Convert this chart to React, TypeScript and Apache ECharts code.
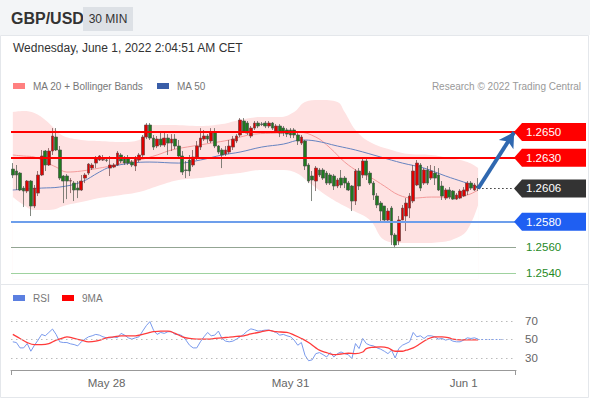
import React, { useEffect, useRef } from 'react';
import * as echarts from 'echarts';

// ---------- data ----------
const opens = [
  1.26211, 1.26196, 1.2618, 1.26063, 1.2604, 1.26118, 1.25923, 1.26024, 1.26165, 1.26352,
  1.26243, 1.26352, 1.26461, 1.2636, 1.26157, 1.26157, 1.26118, 1.26102, 1.26063, 1.26048,
  1.26141, 1.2618, 1.26219, 1.26258, 1.26282, 1.26282, 1.26282, 1.26219, 1.26227, 1.26243,
  1.26321, 1.26297, 1.26297, 1.26266, 1.26235, 1.26282, 1.26321, 1.26461, 1.26555, 1.26453,
  1.26391, 1.26445, 1.26399, 1.26453, 1.26414, 1.26445, 1.26391, 1.26313, 1.26204, 1.26282,
  1.26243, 1.26305, 1.26383, 1.26445, 1.26469, 1.2643, 1.265, 1.26391, 1.2636, 1.26328,
  1.26344, 1.26383, 1.2643, 1.26477, 1.26586, 1.2657, 1.26469, 1.26531, 1.2657, 1.26562,
  1.2657, 1.26547, 1.2657, 1.26508, 1.26547, 1.26531, 1.26516, 1.26516, 1.26516, 1.26477,
  1.26414, 1.2643, 1.26243, 1.26157, 1.26118, 1.26204, 1.26204, 1.2618, 1.26165, 1.26157,
  1.26079, 1.26141, 1.26141, 1.26102, 1.26079, 1.25962, 1.26196, 1.26165, 1.26274, 1.2618,
  1.26102, 1.26001, 1.25946, 1.25923, 1.25814, 1.25907, 1.25697, 1.2565, 1.25814, 1.25845,
  1.25907, 1.25962, 1.26087, 1.26243, 1.26102, 1.26204, 1.26141, 1.2618, 1.26165, 1.26079,
  1.25985, 1.26048, 1.2604, 1.25977, 1.25985, 1.26001, 1.2604, 1.26102, 1.26048, 1.26079,
];
const closes = [
  1.26165, 1.26165, 1.26048, 1.2604, 1.26118, 1.25923, 1.26063, 1.26165, 1.26313, 1.26243,
  1.26352, 1.26469, 1.2636, 1.26141, 1.26118, 1.26118, 1.26121, 1.26048, 1.26048, 1.26118,
  1.26165, 1.2625, 1.26243, 1.26297, 1.26313, 1.26285, 1.2628, 1.26243, 1.26243, 1.26336,
  1.26274, 1.26258, 1.26258, 1.26243, 1.26297, 1.26321, 1.26461, 1.26555, 1.26453, 1.26383,
  1.26445, 1.26399, 1.26453, 1.26414, 1.26445, 1.26391, 1.26313, 1.26188, 1.26201, 1.26196,
  1.26305, 1.26391, 1.26453, 1.26469, 1.26445, 1.265, 1.26391, 1.26344, 1.26321, 1.2636,
  1.26391, 1.26445, 1.26469, 1.26594, 1.26508, 1.26492, 1.26531, 1.2657, 1.26547, 1.2656,
  1.26547, 1.2657, 1.26531, 1.26547, 1.26492, 1.26492, 1.26484, 1.26477, 1.26477, 1.2643,
  1.26461, 1.26235, 1.26118, 1.26126, 1.26219, 1.26165, 1.26141, 1.26102, 1.26102, 1.26079,
  1.26126, 1.26087, 1.26102, 1.26048, 1.25962, 1.26196, 1.26079, 1.26274, 1.26165, 1.26102,
  1.26009, 1.25931, 1.25884, 1.25814, 1.25884, 1.25697, 1.25619, 1.25814, 1.25907, 1.25946,
  1.26001, 1.26196, 1.26258, 1.26063, 1.26204, 1.26102, 1.26196, 1.26141, 1.26048, 1.26001,
  1.26048, 1.25993, 1.25977, 1.26009, 1.2604, 1.26048, 1.26102, 1.26063, 1.26087, 1.26063,
];
const lows = [
  1.26141, 1.26048, 1.2604, 1.25915, 1.26024, 1.25845, 1.25907, 1.26001, 1.26157, 1.26196,
  1.26235, 1.26321, 1.26352, 1.26126, 1.25946, 1.25977, 1.26024, 1.25962, 1.25985, 1.2604,
  1.26102, 1.26165, 1.26204, 1.26219, 1.26274, 1.26274, 1.26266, 1.26157, 1.26219, 1.26235,
  1.26258, 1.26243, 1.26243, 1.26227, 1.26196, 1.26266, 1.26305, 1.26445, 1.26438, 1.2636,
  1.26375, 1.26383, 1.26383, 1.26321, 1.26352, 1.26367, 1.26297, 1.26165, 1.26141, 1.26157,
  1.26227, 1.26282, 1.2636, 1.2643, 1.26414, 1.26414, 1.26375, 1.26328, 1.26219, 1.26313,
  1.26328, 1.2636, 1.26414, 1.26461, 1.26492, 1.26477, 1.26453, 1.26516, 1.26531, 1.26547,
  1.26531, 1.26531, 1.26516, 1.265, 1.26461, 1.26469, 1.26461, 1.26453, 1.26453, 1.26399,
  1.26399, 1.26204, 1.26102, 1.25962, 1.2604, 1.26149, 1.26126, 1.26087, 1.26087, 1.26048,
  1.26063, 1.26063, 1.26063, 1.2604, 1.25884, 1.25931, 1.26048, 1.26141, 1.26126, 1.26087,
  1.2597, 1.25907, 1.25806, 1.25806, 1.25806, 1.25619, 1.25595, 1.25619, 1.25814, 1.25728,
  1.25829, 1.25946, 1.26079, 1.2604, 1.26087, 1.26087, 1.26126, 1.26087, 1.2604, 1.2597,
  1.2597, 1.25977, 1.2597, 1.2597, 1.25977, 1.25993, 1.26009, 1.26048, 1.2604, 1.2604,
];
const highs = [
  1.26258, 1.26243, 1.26188, 1.26079, 1.26126, 1.26126, 1.26087, 1.26196, 1.2636, 1.2636,
  1.26375, 1.26531, 1.26531, 1.26391, 1.26165, 1.26172, 1.26141, 1.26118, 1.26118, 1.26165,
  1.2618, 1.26258, 1.26258, 1.26313, 1.26321, 1.26321, 1.26297, 1.26313, 1.26258, 1.26352,
  1.26336, 1.26313, 1.26321, 1.26282, 1.26313, 1.26336, 1.26477, 1.2657, 1.2657, 1.26477,
  1.26469, 1.265, 1.26508, 1.26484, 1.26484, 1.26484, 1.26438, 1.26352, 1.26274, 1.26321,
  1.2636, 1.2643, 1.26531, 1.26516, 1.26484, 1.26531, 1.26531, 1.26399, 1.26375, 1.26391,
  1.26438, 1.26469, 1.26484, 1.26609, 1.26609, 1.26586, 1.26547, 1.26586, 1.26586, 1.26578,
  1.26586, 1.26586, 1.26578, 1.26562, 1.26562, 1.26547, 1.26531, 1.26531, 1.26531, 1.26492,
  1.26477, 1.26438, 1.26258, 1.26196, 1.26235, 1.26219, 1.26219, 1.26196, 1.2618, 1.26172,
  1.26141, 1.26204, 1.26157, 1.26118, 1.26087, 1.26211, 1.26219, 1.26297, 1.26297, 1.26196,
  1.26118, 1.26024, 1.25962, 1.25923, 1.25907, 1.25923, 1.25712, 1.25845, 1.25931, 1.25985,
  1.26024, 1.26243, 1.26282, 1.26258, 1.26219, 1.26235, 1.26243, 1.26235, 1.26219, 1.26118,
  1.26063, 1.26071, 1.26048, 1.26024, 1.26055, 1.26071, 1.26118, 1.26118, 1.26102, 1.26141,
];

// indicator lines: [candle index, value]
const upperBand = [
  [0, 1.26656], [3, 1.26664], [6, 1.26648], [9, 1.26594], [12, 1.26516], [14, 1.26469], [19, 1.26438],
  [24, 1.2643], [30, 1.26422], [35, 1.26438], [38, 1.26555], [44, 1.26555], [52, 1.26547], [58, 1.26562],
  [63, 1.26594], [69, 1.26617], [74, 1.26617], [78, 1.26656], [81, 1.26734], [85, 1.2675], [90, 1.26734],
  [92, 1.26656], [95, 1.26516], [99, 1.26422], [105, 1.2636], [110, 1.26328], [116, 1.26321], [121, 1.26297],
  [126, 1.26266], [129, 1.26219],
];
const lowerBand = [
  [0, 1.25993], [3, 1.25931], [6, 1.25892], [10, 1.25892], [15, 1.25931], [19, 1.25954], [24, 1.25985],
  [30, 1.26009], [35, 1.26032], [41, 1.26087], [46, 1.26126], [52, 1.26141], [58, 1.26165], [63, 1.2618],
  [69, 1.26204], [74, 1.26204], [78, 1.26188], [83, 1.26087], [88, 1.25985], [94, 1.25892], [99, 1.25814],
  [103, 1.25658], [108, 1.25634], [113, 1.25634], [119, 1.25642], [123, 1.25673], [126, 1.25736], [129, 1.25931],
];
const ma20 = [
  [0, 1.26321], [3, 1.26313], [6, 1.26305], [9, 1.26266], [12, 1.26227], [15, 1.26188], [19, 1.26196],
  [24, 1.26219], [27, 1.26235], [30, 1.26258], [35, 1.26282], [40, 1.26321], [44, 1.2636], [50, 1.26391],
  [55, 1.26414], [60, 1.26438], [63, 1.26461], [67, 1.26484], [73, 1.26492], [79, 1.265], [84, 1.26461],
  [88, 1.26375], [92, 1.26266], [96, 1.26188], [99, 1.26149], [103, 1.26079], [107, 1.26009], [111, 1.25985],
  [116, 1.25993], [121, 1.25993], [126, 1.26009], [129, 1.26048],
];
const ma50 = [
  [0, 1.26048], [8, 1.26063], [13, 1.26071], [19, 1.2611], [24, 1.26188], [27, 1.26227], [33, 1.26258],
  [38, 1.26266], [46, 1.26258], [52, 1.26282], [58, 1.26321], [63, 1.26344], [69, 1.26383], [75, 1.26406],
  [80, 1.26438], [84, 1.2643], [90, 1.26391], [95, 1.2636], [102, 1.26305], [108, 1.26258], [114, 1.26219],
  [120, 1.26157], [125, 1.2611], [129, 1.26071],
];

const rsi = [
  47.5, 46.7, 40.9, 40.9, 45.6, 37.3, 43.8, 49.3, 55.5, 54.0,
  57.6, 61.3, 55.5, 47.5, 46.7, 46.7, 45.3, 44.5, 43.1, 47.5,
  50.4, 52.9, 54.0, 55.5, 54.7, 52.9, 51.8, 51.8, 52.9, 51.8,
  56.6, 54.7, 51.8, 50.4, 51.8, 52.9, 59.1, 64.9, 69.3, 60.2,
  55.5, 57.6, 56.6, 58.4, 58.4, 55.5, 55.5, 54.0, 49.3, 43.8,
  40.9, 40.9, 47.5, 52.9, 57.6, 54.0, 54.7, 59.1, 51.1, 48.2,
  47.5, 48.2, 50.4, 52.9, 55.5, 59.1, 61.5, 60.5, 59.1, 59.5,
  60.2, 60.2, 59.0, 57.6, 54.7, 55.5, 54.0, 52.9, 49.3, 43.8,
  46.7, 33.0, 27.0, 28.0, 34.7, 35.8, 33.6, 31.1, 35.8, 31.1,
  34.7, 36.5, 34.7, 33.6, 29.3, 45.6, 40.2, 51.1, 45.6, 43.8,
  43.1, 40.9, 39.5, 37.3, 34.7, 38.4, 30.0, 40.2, 43.8, 45.6,
  47.5, 57.6, 52.9, 54.0, 51.1, 54.0, 54.0, 52.9, 50.4, 51.1,
  49.3, 50.4, 48.2, 47.5, 47.5, 49.3, 51.8, 51.1, 51.8, 50.4,
];
const rsiMa9 = [
  [0, 55.5], [2, 51.1], [4, 46.7], [6, 44.5], [8, 44.5], [10, 45.6], [12, 49.3], [14, 51.8], [15, 52.9],
  [17, 51.1], [19, 49.3], [21, 47.5], [23, 48.2], [25, 50.4], [26, 51.8], [28, 52.9], [30, 54.0], [32, 54.0],
  [34, 54.0], [36, 55.5], [38, 57.6], [39, 58.4], [41, 59.1], [43, 59.1], [45, 56.6], [47, 52.9], [49, 51.1],
  [51, 50.4], [52, 50.4], [54, 50.4], [56, 51.1], [58, 51.8], [60, 52.5], [62, 53.3], [64, 54.0], [66, 56.0],
  [69, 58.4], [71, 59.8], [73, 58.4], [76, 57.6], [78, 54.7], [80, 51.1], [82, 46.7], [84, 40.9], [85, 38.4],
  [87, 35.8], [89, 33.6], [91, 34.3], [93, 35.1], [95, 34.7], [97, 36.5], [98, 40.2], [100, 41.6], [102, 42.0],
  [104, 40.9], [106, 37.3], [108, 37.3], [109, 38.4], [111, 40.9], [113, 45.6], [115, 50.4], [117, 52.9],
  [119, 52.9], [121, 51.8], [122, 50.4], [124, 49.6], [126, 49.6], [129, 49.6],
];

const rsiLevels = [70, 50, 30];
const lastPrice = 1.2606;
const targetPrice = 1.265;
const badgeLevels = [1.265, 1.263, 1.2606, 1.258];
const plainLevels = [1.256, 1.254];
const slotCount = 140;
const dateTickIndex = [26, 77, 125];
const dateTickLabel = ['May 28', 'May 31', 'Jun 1'];
const headerPair = 'GBP/USD';
const headerPeriod = '30 MIN';
const headerDate = 'Wednesday, June 1, 2022 2:04:51 AM CET';
const creditText = 'Research © 2022 Trading Central';
const priceLegend = ['MA 20 + Bollinger Bands', 'MA 50'];
const rsiLegend = ['RSI', '9MA'];

const FONT = '"Liberation Sans", Arial, Helvetica, sans-serif';

export default function App() {
  const ref = useRef<HTMLDivElement>(null);

  useEffect(() => {
    document.body.style.margin = '0';
    if (!ref.current) return;
    const chart = echarts.init(ref.current, undefined, { renderer: 'svg' });

    const categories = Array.from({ length: slotCount }, (_, i) => String(i));
    const candles = opens.map((o, i) => [o, closes[i], lows[i], highs[i]]);
    const lastIdx = opens.length - 1;

    const levelLine = (v: number, color: string, width: number) => ({
      yAxis: v,
      lineStyle: { color, width, type: 'solid' },
    });

    chart.setOption({
      animation: false,
      textStyle: { fontFamily: FONT },
      grid: [
        { left: 11, width: 505, top: 100, height: 179.5 },
        { left: 11, width: 505, top: 302.5, height: 67.5 },
      ],
      xAxis: [
        {
          type: 'category', gridIndex: 0, data: categories, boundaryGap: true,
          axisLine: { show: false }, axisTick: { show: false }, axisLabel: { show: false }, splitLine: { show: false },
        },
        {
          type: 'category', gridIndex: 1, data: categories, boundaryGap: true,
          axisLine: { show: true, lineStyle: { color: '#999', width: 1 } },
          axisTick: { show: false },
          axisLabel: {
            interval: 0, color: '#666', fontSize: 11.5, margin: 7, fontFamily: FONT,
            formatter: (_v: string, idx: number) => {
              const k = dateTickIndex.indexOf(idx);
              return k >= 0 ? dateTickLabel[k] : '';
            },
          },
          splitLine: { show: false },
        },
      ],
      yAxis: [
        { type: 'value', gridIndex: 0, min: 1.2535, max: 1.2675, show: false },
        { type: 'value', gridIndex: 1, min: 17, max: 90, show: false },
      ],
      series: [
        {
          name: 'upperBand', type: 'line', xAxisIndex: 0, yAxisIndex: 0, data: upperBand, smooth: 0.4,
          symbol: 'none', lineStyle: { width: 0 }, areaStyle: { color: '#fee2e2', origin: 'start', opacity: 1 },
          z: 1, silent: true,
        },
        {
          name: 'lowerBand', type: 'line', xAxisIndex: 0, yAxisIndex: 0, data: lowerBand, smooth: 0.4,
          symbol: 'none', lineStyle: { width: 0 }, areaStyle: { color: '#ffffff', origin: 'start', opacity: 1 },
          z: 2, silent: true,
        },
        {
          name: 'MA 20 + Bollinger Bands', type: 'line', xAxisIndex: 0, yAxisIndex: 0, data: ma20, smooth: 0.4,
          symbol: 'none', lineStyle: { color: '#f39a9a', width: 1 }, z: 3,
        },
        {
          name: 'MA 50', type: 'line', xAxisIndex: 0, yAxisIndex: 0, data: ma50, smooth: 0.4,
          symbol: 'none', lineStyle: { color: '#6683c0', width: 1 }, z: 3,
        },
        {
          name: 'price', type: 'candlestick', xAxisIndex: 0, yAxisIndex: 0, data: candles, barWidth: 3.2, z: 4,
          itemStyle: { color: '#e00000', color0: '#1f7a1f', borderColor: '#6a4444', borderColor0: '#4a554a', borderWidth: 0.7 },
        },
        {
          name: 'levels', type: 'line', xAxisIndex: 0, yAxisIndex: 0, data: [[lastIdx, lastPrice]],
          symbol: 'none', lineStyle: { width: 0 }, z: 5, silent: true,
          markLine: {
            silent: true, symbol: ['none', 'none'], animation: false, label: { show: false }, precision: 5,
            data: [
              levelLine(1.265, '#ff0000', 2),
              levelLine(1.263, '#ff0000', 2),
              levelLine(1.258, '#6d9eeb', 2),
              levelLine(1.256, '#93a593', 1),
              levelLine(1.254, '#9fd29f', 1),
              [
                { coord: [lastIdx, lastPrice], symbol: 'none' },
                { coord: [slotCount - 1, lastPrice], symbol: 'none', lineStyle: { color: '#333', width: 1.2, type: [1.5, 2.5] } },
              ],
              [
                { coord: [lastIdx, lastPrice], symbol: 'none' },
                {
                  coord: [slotCount - 1, targetPrice], symbol: 'arrow', symbolSize: [13, 15],
                  lineStyle: { color: '#2f68b0', width: 4, type: 'solid' }, itemStyle: { color: '#2f68b0' },
                },
              ],
            ],
          },
        },
        {
          name: 'RSI', type: 'line', xAxisIndex: 1, yAxisIndex: 1, data: rsi, symbol: 'none',
          lineStyle: { color: '#7a9aec', width: 1 }, z: 3,
          markLine: {
            silent: true, symbol: ['none', 'none'], animation: false, precision: 1,
            label: { show: true, position: 'end', distance: 9, color: '#666', fontSize: 11.5, fontFamily: FONT, formatter: '{c}' },
            lineStyle: { color: '#bbb', width: 1, type: [1.5, 3.5] },
            data: [
              ...rsiLevels.map((v) => ({ yAxis: v })),
              [
                { coord: [lastIdx, rsi[lastIdx]], symbol: 'none' },
                { coord: [slotCount - 4, rsi[lastIdx]], symbol: 'none', lineStyle: { color: '#7a9aec', width: 1, type: [1.5, 2] }, label: { show: false } },
              ],
            ],
          },
        },
        {
          name: '9MA', type: 'line', xAxisIndex: 1, yAxisIndex: 1, data: rsiMa9, smooth: 0.4, symbol: 'none',
          lineStyle: { color: '#ff3b3b', width: 1.3 }, z: 4,
        },
      ],
    });

    const yPix = (v: number) => chart.convertToPixel({ yAxisIndex: 0 }, v) as number;
    const badgeColors = ['#ff0000', '#ff0000', '#333333', '#1f5ff2'];
    const badges: any[] = [];
    badgeLevels.forEach((v, k) => {
      const y = yPix(v);
      badges.push({
        type: 'polygon', silent: true, z: 10,
        shape: { points: [[514, y], [522, y - 9], [586, y - 9], [586, y + 9], [522, y + 9]] },
        style: { fill: badgeColors[k] },
      });
      badges.push({
        type: 'text', silent: true, z: 11, x: 526, y,
        style: { text: v.toFixed(4), fill: '#fff', font: `11.5px ${FONT}`, verticalAlign: 'middle' },
      });
    });
    plainLevels.forEach((v) => {
      badges.push({
        type: 'text', silent: true, z: 11, x: 526, y: yPix(v),
        style: { text: v.toFixed(4), fill: '#1f8a1f', font: `11.5px ${FONT}`, verticalAlign: 'middle' },
      });
    });

    const legendItem = (x: number, y: number, color: string, label: string) => [
      { type: 'rect', silent: true, shape: { x, y: y - 3, width: 12, height: 6 }, style: { fill: color } },
      { type: 'text', silent: true, x: x + 20, y, style: { text: label, fill: '#777', font: `10px ${FONT}`, verticalAlign: 'middle' } },
    ];

    chart.setOption({
      graphic: [
        { type: 'rect', silent: true, z: -10, shape: { x: 0, y: 0, width: 590, height: 35 }, style: { fill: '#f3f5f7' } },
        { type: 'rect', silent: true, z: -9, shape: { x: 0.5, y: 35.5, width: 588, height: 249 }, style: { fill: 'none', stroke: '#e4e7eb', lineWidth: 1 } },
        { type: 'rect', silent: true, z: -9, shape: { x: 0.5, y: 284.5, width: 588, height: 113 }, style: { fill: 'none', stroke: '#e4e7eb', lineWidth: 1 } },
        { type: 'text', silent: true, x: 11, y: 18, style: { text: headerPair, fill: '#333', font: `bold 16px ${FONT}`, verticalAlign: 'middle' } },
        { type: 'rect', silent: true, shape: { x: 83, y: 7, width: 50, height: 24 }, style: { fill: '#dde1e6' } },
        { type: 'text', silent: true, x: 108, y: 19, style: { text: headerPeriod, fill: '#333', font: `12px ${FONT}`, align: 'center', verticalAlign: 'middle' } },
        { type: 'text', silent: true, x: 13, y: 48, style: { text: headerDate, fill: '#333', font: `12px ${FONT}`, verticalAlign: 'middle' } },
        { type: 'text', silent: true, x: 581, y: 86, style: { text: creditText, fill: '#999', font: `10px ${FONT}`, align: 'right', verticalAlign: 'middle' } },
        ...legendItem(13, 86, '#ff8080', priceLegend[0]),
        ...legendItem(157, 86, '#3a5ea8', priceLegend[1]),
        ...legendItem(13, 298, '#5b7fe0', rsiLegend[0]),
        ...legendItem(62, 298, '#ff0000', rsiLegend[1]),
        { type: 'line', silent: true, shape: { x1: 11.5, y1: 370, x2: 11.5, y2: 375 }, style: { stroke: '#999', lineWidth: 1 } },
        { type: 'line', silent: true, shape: { x1: 515.5, y1: 370, x2: 515.5, y2: 375 }, style: { stroke: '#999', lineWidth: 1 } },
        ...badges,
      ],
    });

    return () => chart.dispose();
  }, []);

  return <div ref={ref} style={{ width: 590, height: 400 }} />;
}
